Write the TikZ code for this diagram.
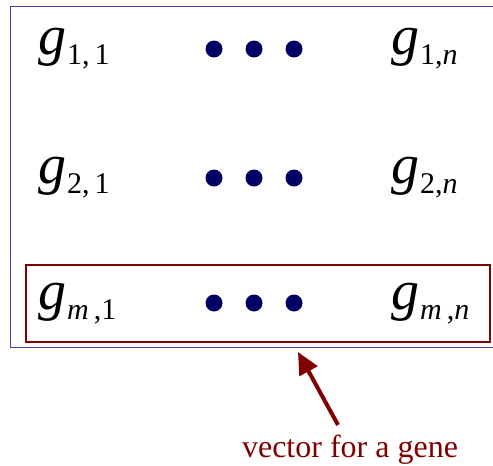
\documentclass[tikz,border=0pt]{standalone}
\usepackage{fontspec}
\setmainfont{Liberation Serif}
\usepackage{tikz}
\usetikzlibrary{positioning, arrows.meta}
\usepackage{xcolor}

\definecolor{framebl}{RGB}{70,70,170}
\definecolor{dotbl}{RGB}{0,0,100}
\definecolor{darkred}{RGB}{128,0,0}

\newcommand{\gent}[1]{{\fontsize{56}{56}\selectfont\itshape g}\kern1pt\raisebox{-10pt}{\fontsize{30}{30}\selectfont #1}}

\begin{document}
\begin{tikzpicture}[x=1pt, y=-1pt,
    entry/.style={inner sep=0pt, anchor=base west},
    gdot/.style={circle, fill=dotbl, inner sep=0pt, minimum size=17pt},
    frame/.style={draw=framebl, line width=0.8pt},
    genebox/.style={draw=darkred, line width=2.5pt}]
    \useasboundingbox (0,0) rectangle (493,466);

    % frame, open on the right
    \draw[frame] (493,6) -- (10,6) -- (10,347) -- (493,347);

    % entries
    \node[entry] (g11) at (38,54) {\gent{1,\,1}};
    \node[entry] (g1n) at (391,54) {\gent{1,\textit{n}}};
    \node[entry] (g21) at (38,183) {\gent{2,\,1}};
    \node[entry] (g2n) at (391,183) {\gent{2,\textit{n}}};
    \node[entry] (gm1) at (38,309) {\gent{\textit{m}\,,1}};
    \node[entry] (gmn) at (391,309) {\gent{\textit{m}\,,\textit{n}}};

    % dots
    \foreach \r/\y in {1/49, 2/178, 3/303} {
        \node[gdot] (d\r a) at (214,\y) {};
        \node[gdot] (d\r b) at (254,\y) {};
        \node[gdot] (d\r c) at (294,\y) {};
    }

    % the gene row
    \draw[genebox] (26,265) rectangle (490,342);

    \node[text=darkred, font=\fontsize{32}{32}\selectfont, anchor=base] (lbl) at (350,457) {vector for a gene};
    \coordinate (tip) at (298,352);
    \draw[darkred, line width=4pt, -{Triangle[length=22pt, width=20pt]}] ([xshift=-12pt, yshift=6pt]lbl.north) -- (tip);
\end{tikzpicture}
\end{document}
